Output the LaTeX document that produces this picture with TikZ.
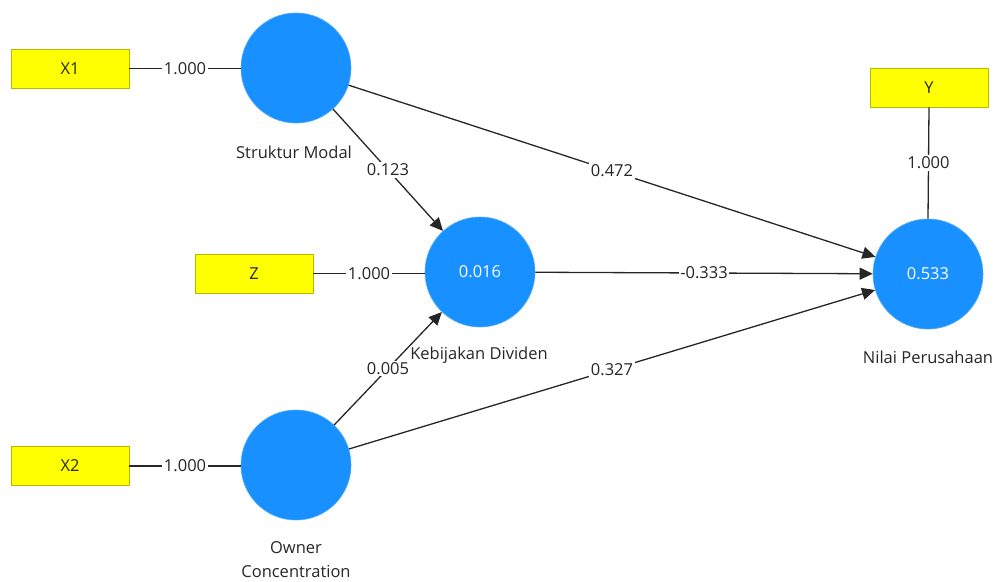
\documentclass[tikz,border=0pt]{standalone}
\usepackage{fontspec}
\setmainfont{Open Sans}
\usetikzlibrary{arrows.meta}
\definecolor{latent}{HTML}{1890FF}
\definecolor{indicator}{HTML}{FFFF00}
\definecolor{indborder}{HTML}{B8B800}
\definecolor{ink}{HTML}{262626}
\tikzset{
  x=1pt, y=-1pt,
  every node/.style={font=\fontsize{16.5}{19}\selectfont, text=ink},
  construct/.style={circle, fill=latent, draw=latent!80, line width=0.6pt, minimum size=110pt, inner sep=0pt, text=white},
  indbox/.style={rectangle, fill=indicator, draw=indborder, line width=0.8pt, minimum width=118pt, minimum height=39pt, inner sep=0pt},
  caption/.style={align=center, inner sep=0pt},
  link/.style={draw=ink, line width=1.3pt},
  path/.style={link, -{Triangle[length=13pt,width=12pt]}},
  coef/.style={fill=white, inner sep=1.5pt, pos=0.5}
}
\begin{document}
\begin{tikzpicture}
\useasboundingbox (0,0) rectangle (1001,581);

% constructs
\node[construct] (sm) at (296,68) {};
\node[construct] (kd) at (480,272) {0.016};
\node[construct] (oc) at (296,465) {};
\node[construct] (np) at (928,274) {0.533};

% construct names
\node[caption] (smlab) at (294,152) {Struktur Modal};
\node[caption] (kdlab) at (479,355) {Kebijakan Dividen};
\node[caption] (nplab) at (928,357) {Nilai Perusahaan};
\node[caption] (oclab) at (296,548) {Owner};
\node[caption] (oclab2) at (296,572) {Concentration};

% indicators
\node[indbox] (x1) at (70,68.5) {X1};
\node[indbox] (z) at (254,273.5) {Z};
\node[indbox] (x2) at (70,466) {X2};
\node[indbox] (y) at (929,87.5) {Y};

% outer loadings
\draw[link] (x1.east) -- node[coef] {1.000} (sm.west |- x1.east);
\draw[link] (z.east) -- node[coef] {1.000} (kd.west |- z.east);
\draw[link] (x2.east) -- node[coef] {1.000} (oc.west |- x2.east);
\draw[link] (y.south) -- node[coef] {1.000} (np.north);

% structural paths
\draw[path] (sm) -- node[coef] {0.123} (kd);
\draw[path] (sm) -- node[coef] {0.472} (np);
\draw[path] (kd) -- node[coef] {-0.333} (np);
\draw[path] (oc) -- node[coef] {0.005} (kd);
\draw[path] (oc) -- node[coef] {0.327} (np);
\end{tikzpicture}
\end{document}
